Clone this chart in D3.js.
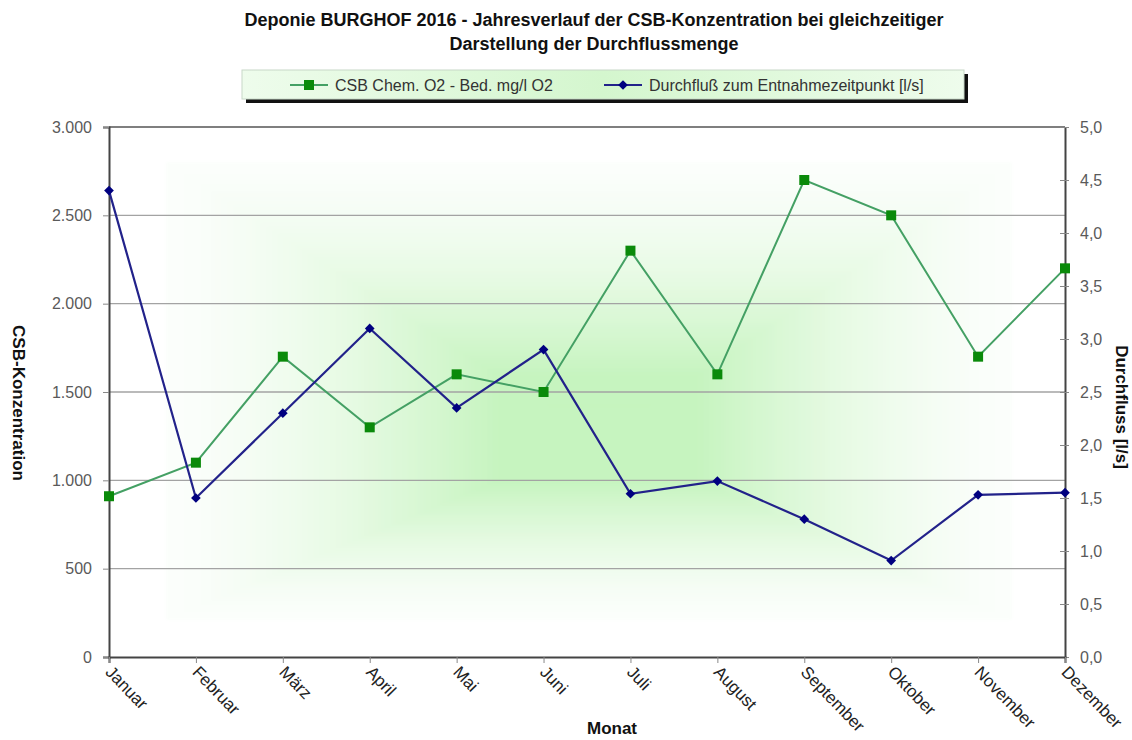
<!DOCTYPE html>
<html lang="de">
<head>
<meta charset="utf-8">
<title>Deponie BURGHOF 2016 - CSB-Konzentration und Durchfluss</title>
<script src="https://cdn.jsdelivr.net/npm/d3@7"></script>
<style>
  html, body { margin: 0; padding: 0; background: #ffffff; }
  svg { display: block; font-family: Arial, "Liberation Sans", sans-serif; }
</style>
</head>
<body>
<svg id="chart" width="1132" height="740"></svg>
<script>
// Monate des Jahres 2016
const months = ["Januar", "Februar", "März", "April", "Mai", "Juni",
                "Juli", "August", "September", "Oktober", "November", "Dezember"];

// CSB Chem. O2 - Bed. [mg/l O2]
const csbValues = [910, 1100, 1700, 1300, 1600, 1500, 2300, 1600, 2700, 2500, 1700, 2200];

// Durchfluss zum Entnahmezeitpunkt [l/s]
const flowValues = [4.40, 1.50, 2.30, 3.10, 2.35, 2.90, 1.54, 1.66, 1.30, 0.91, 1.53, 1.55];

// Achsenbeschriftungen
const csbTicks = [0, 500, 1000, 1500, 2000, 2500, 3000];
const flowTicks = [0, 0.5, 1, 1.5, 2, 2.5, 3, 3.5, 4, 4.5, 5];

const titleLines = ["Deponie BURGHOF 2016 - Jahresverlauf der CSB-Konzentration bei gleichzeitiger",
                    "Darstellung der Durchflussmenge"];
const legendLabels = ["CSB Chem. O2 - Bed. mg/l O2", "Durchfluß zum Entnahmezeitpunkt [l/s]"];

const svg = d3.select("#chart");
const plot = { left: 109, right: 1065, top: 127, bottom: 657 };

const x = d3.scalePoint().domain(months).range([plot.left, plot.right]);
const yL = d3.scaleLinear().domain([0, 3000]).range([plot.bottom, plot.top]);
const yR = d3.scaleLinear().domain([0, 5]).range([plot.bottom, plot.top]);

const fmtCsb = d => d === 0 ? "0" : d3.format(",")(d).replace(/,/g, ".");
const fmtFlow = d => d3.format(".1f")(d).replace(".", ",");

const defs = svg.append("defs");

// rechteckiger Verlauf "aus der Mitte": konzentrische Rechtecke von Weiß nach Hellgrün
const outer = { x0: 166, x1: 1012, y0: 162, y1: 620 };
const inner = { x0: 560, x1: 640, y0: 415, y1: 455 };
const glowColor = d3.interpolateRgb("#fbfefb", "#c6f4bf");
const levels = d3.range(0, 1.0001, 1 / 70);
defs.append("filter").attr("id", "soft").append("feGaussianBlur").attr("stdDeviation", 1.5);
svg.append("g").attr("filter", "url(#soft)")
  .selectAll("rect").data(levels).join("rect")
  .attr("x", t => outer.x0 + (inner.x0 - outer.x0) * t)
  .attr("y", t => outer.y0 + (inner.y0 - outer.y0) * t)
  .attr("width", t => (outer.x1 - outer.x0) + ((inner.x1 - inner.x0) - (outer.x1 - outer.x0)) * t)
  .attr("height", t => (outer.y1 - outer.y0) + ((inner.y1 - inner.y0) - (outer.y1 - outer.y0)) * t)
  .attr("fill", t => glowColor(Math.min(1, Math.pow(t, 1.5) * 1.3)));

// Gitterlinien
svg.append("g").selectAll("line").data(csbTicks.filter(d => d > 0 && d < 3000)).join("line")
  .attr("x1", plot.left).attr("x2", plot.right)
  .attr("y1", d => yL(d)).attr("y2", d => yL(d))
  .attr("stroke", "#a3a3a3").attr("stroke-width", 1.4);

// Rahmen oben
svg.append("line").attr("x1", plot.left).attr("x2", plot.right)
  .attr("y1", plot.top).attr("y2", plot.top)
  .attr("stroke", "#555").attr("stroke-width", 1.4);

// linke Achse
const leftAxis = svg.append("g").attr("transform", `translate(${plot.left},0)`)
  .call(d3.axisLeft(yL).tickValues(csbTicks).tickFormat(fmtCsb).tickSize(6).tickPadding(11));
leftAxis.select(".domain").attr("stroke", "#444").attr("stroke-width", 2);
leftAxis.selectAll(".tick line").attr("stroke", "#888");
leftAxis.selectAll("text").attr("font-size", 16).attr("fill", "#5a5a5a");

// rechte Achse
const rightAxis = svg.append("g").attr("transform", `translate(${plot.right},0)`)
  .call(d3.axisRight(yR).tickValues(flowTicks).tickFormat(fmtFlow).tickSize(0).tickPadding(15));
rightAxis.select(".domain").attr("stroke", "#444").attr("stroke-width", 2);
rightAxis.selectAll(".tick").append("line").attr("x1", -5).attr("x2", 4).attr("stroke", "#888");
rightAxis.selectAll("text").attr("font-size", 16).attr("fill", "#5a5a5a");

// x-Achse
const bottomAxis = svg.append("g").attr("transform", `translate(0,${plot.bottom})`)
  .call(d3.axisBottom(x).tickSize(6).tickPadding(6));
bottomAxis.select(".domain").attr("stroke", "#444").attr("stroke-width", 2);
bottomAxis.selectAll(".tick line").attr("stroke", "#888");
bottomAxis.selectAll("text")
  .attr("font-size", 17).attr("fill", "#222")
  .attr("text-anchor", "start")
  .attr("dy", null).attr("y", 0)
  .attr("transform", "translate(-5,16) rotate(46)");

// Linien
const csbLine = d3.line().x((d, i) => x(months[i])).y(d => yL(d));
const flowLine = d3.line().x((d, i) => x(months[i])).y(d => yR(d));

svg.append("path").datum(csbValues).attr("d", csbLine)
  .attr("fill", "none").attr("stroke", "#44a064").attr("stroke-width", 2);
svg.append("path").datum(flowValues).attr("d", flowLine)
  .attr("fill", "none").attr("stroke", "#22228a").attr("stroke-width", 2.2);

// Marker
svg.append("g").selectAll("rect").data(csbValues).join("rect")
  .attr("x", (d, i) => x(months[i]) - 5).attr("y", d => yL(d) - 5)
  .attr("width", 10).attr("height", 10).attr("fill", "#0a8a0a");

const diamond = d3.symbol().type(d3.symbolDiamond2).size(60);
svg.append("g").selectAll("path").data(flowValues).join("path")
  .attr("d", diamond)
  .attr("transform", (d, i) => `translate(${x(months[i])},${yR(d)})`)
  .attr("fill", "#000080");

// Titel
svg.append("g").selectAll("text").data(titleLines).join("text")
  .attr("x", 594).attr("y", (d, i) => 26 + i * 24)
  .attr("text-anchor", "middle").attr("font-size", 18).attr("font-weight", "bold")
  .attr("fill", "#111").text(d => d);

// Achsentitel
svg.append("text").attr("transform", "translate(13,403) rotate(90)")
  .attr("text-anchor", "middle").attr("font-size", 17).attr("font-weight", "bold")
  .attr("fill", "#111").text("CSB-Konzentration");
svg.append("text").attr("transform", "translate(1116,407) rotate(90)")
  .attr("text-anchor", "middle").attr("font-size", 17).attr("font-weight", "bold")
  .attr("fill", "#111").text("Durchfluss [l/s]");
svg.append("text").attr("x", 612).attr("y", 734)
  .attr("text-anchor", "middle").attr("font-size", 17).attr("font-weight", "bold")
  .attr("fill", "#111").text("Monat");

// Legende
const legGrad = defs.append("linearGradient").attr("id", "legFill").attr("x1", 0).attr("x2", 1);
[[0, "#eefcec"], [0.5, "#d4f6ce"], [1, "#eefcec"]].forEach(([o, c]) =>
  legGrad.append("stop").attr("offset", o).attr("stop-color", c));

const leg = svg.append("g").attr("transform", "translate(242,70)");
leg.append("rect").attr("x", 4).attr("y", 4).attr("width", 722).attr("height", 29).attr("fill", "#111");
leg.append("rect").attr("x", 0).attr("y", 0).attr("width", 722).attr("height", 29)
  .attr("fill", "url(#legFill)").attr("stroke", "#c8d8c8").attr("stroke-width", 1);

const legItems = [
  { label: legendLabels[0], x: 48, color: "#44a064", marker: "square", mcolor: "#0a8a0a" },
  { label: legendLabels[1], x: 362, color: "#22228a", marker: "diamond", mcolor: "#000080" }
];
legItems.forEach(it => {
  const g = leg.append("g").attr("transform", `translate(${it.x},15)`);
  g.append("line").attr("x1", 0).attr("x2", 38).attr("stroke", it.color).attr("stroke-width", 2);
  if (it.marker === "square") {
    g.append("rect").attr("x", 14).attr("y", -5).attr("width", 10).attr("height", 10).attr("fill", it.mcolor);
  } else {
    g.append("path").attr("d", diamond).attr("transform", "translate(19,0)").attr("fill", it.mcolor);
  }
  g.append("text").attr("x", 45).attr("y", 6).attr("font-size", 16).attr("fill", "#333").text(it.label);
});
</script>
</body>
</html>
